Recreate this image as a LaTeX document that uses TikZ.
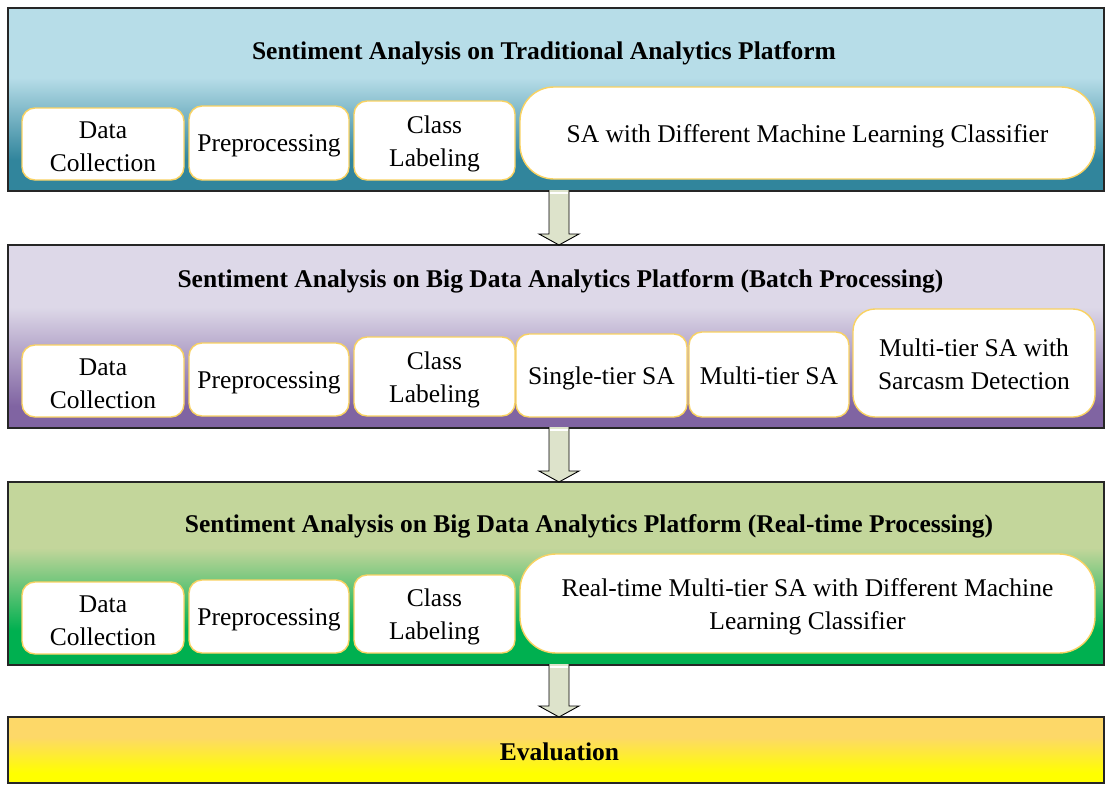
\documentclass[tikz,border=0pt]{standalone}
\usepackage{fontspec}
\setmainfont{Liberation Serif}
\usetikzlibrary{calc}

% panel and box colours
\definecolor{tealtop}{HTML}{B7DDE8}
\definecolor{tealbot}{HTML}{31859C}
\definecolor{lavtop}{HTML}{DDD8E8}
\definecolor{lavbot}{HTML}{8064A2}
\definecolor{greentop}{HTML}{C3D69B}
\definecolor{greenbot}{HTML}{00B050}
\definecolor{goldtop}{HTML}{FDD868}
\definecolor{goldbot}{HTML}{FFFF00}
\definecolor{boxline}{HTML}{F9D262}
\definecolor{arrowfill}{HTML}{DDE3CB}

% vertical bands: the path is mapped onto 25bp..75bp
\pgfdeclareverticalshading{tealband}{100bp}{color(0bp)=(tealbot); color(33.5bp)=(tealbot); color(56bp)=(tealtop); color(100bp)=(tealtop)}
\pgfdeclareverticalshading{lavband}{100bp}{color(0bp)=(lavbot); color(31bp)=(lavbot); color(58bp)=(lavtop); color(100bp)=(lavtop)}
\pgfdeclareverticalshading{greenband}{100bp}{color(0bp)=(greenbot); color(34.5bp)=(greenbot); color(57bp)=(greentop); color(100bp)=(greentop)}
\pgfdeclareverticalshading{goldband}{100bp}{color(0bp)=(goldbot); color(32.5bp)=(goldbot); color(60bp)=(goldtop); color(100bp)=(goldtop)}

\tikzset{
  panel/.style={draw=black!85, line width=1.2pt, inner sep=0pt, outer sep=0pt,
    minimum width=1096pt, anchor=north west},
  paneltitle/.style={font=\fontsize{25.5}{33}\selectfont\bfseries, inner sep=0pt},
  stagebox/.style={draw=boxline, line width=1.4pt, fill=white, rounded corners=13pt,
    inner sep=0pt},
  stagetext/.style={align=center, inner sep=0pt, yshift=-3pt,
    font=\fontsize{25.5}{33}\selectfont},
  flowarrow/.style={fill=arrowfill, draw=black, line width=0.9pt, line join=miter},
}

% block arrow pointing down from #1 to #2
\newcommand\downblock[2]{%
  \path let \p1=(#1), \p2=(#2) in
    [flowarrow] (\x1-10pt,\y1+1pt) -- (\x1-10pt,\y2+11pt) -- (\x1-20pt,\y2+11pt)
      -- (\x1,\y2) -- (\x1+20pt,\y2+11pt) -- (\x1+10pt,\y2+11pt) -- (\x1+10pt,\y1+1pt);
  \path let \p1=(#1) in
    [draw=white, line width=1.6pt] (\x1-9.4pt,\y1-2pt) -- (\x1+9.4pt,\y1-2pt);
}

\begin{document}
\begin{tikzpicture}[x=1pt,y=-1pt]
\useasboundingbox (0,0) rectangle (1106,787);

% ---- panels ----
\node[panel, shading=tealband, minimum height=183pt] (p1) at (8,8) {};
\node[panel, shading=lavband, minimum height=183pt] (p2) at (8,245) {};
\node[panel, shading=greenband, minimum height=183pt] (p3) at (8,482) {};
\node[panel, shading=goldband, minimum height=66pt] (p4) at (8,717) {};

% ---- titles ----
\node[paneltitle] (t1) at (544,53) {Sentiment Analysis on Traditional Analytics Platform};
\node[paneltitle] (t2) at (560.5,281) {Sentiment Analysis on Big Data Analytics Platform (Batch Processing)};
\node[paneltitle] (t3) at (589,526) {Sentiment Analysis on Big Data Analytics Platform (Real-time Processing)};
\node[paneltitle] (t4) at (559.5,752) {Evaluation};

% ---- traditional platform ----
\node[stagebox, minimum width=162pt, minimum height=72pt,
  label={[stagetext]center:{Data\\Collection}}] (a1) at (103,144) {};
\node[stagebox, minimum width=160pt, minimum height=74pt,
  label={[stagetext]center:{Preprocessing}}] (a2) at (269,143) {};
\node[stagebox, minimum width=161pt, minimum height=79pt,
  label={[stagetext]center:{Class\\Labeling}}] (a3) at (434.5,140.5) {};
\node[stagebox, minimum width=575pt, minimum height=92pt, rounded corners=34pt,
  label={[stagetext]center:{SA with Different Machine Learning Classifier}}] (a4) at (807.5,133) {};

% ---- batch processing ----
\node[stagebox, minimum width=162pt, minimum height=72pt,
  label={[stagetext]center:{Data\\Collection}}] (b1) at (103,381) {};
\node[stagebox, minimum width=160pt, minimum height=73pt,
  label={[stagetext]center:{Preprocessing}}] (b2) at (269,379.5) {};
\node[stagebox, minimum width=161pt, minimum height=79pt,
  label={[stagetext]center:{Class\\Labeling}}] (b3) at (434.5,376.5) {};
\node[stagebox, minimum width=171pt, minimum height=83pt,
  label={[stagetext]center:{Single-tier SA}}] (b4) at (601.5,375.5) {};
\node[stagebox, minimum width=160pt, minimum height=85pt,
  label={[stagetext, yshift=2pt]center:{Multi-tier SA}}] (b5) at (769,374.5) {};
\node[stagebox, minimum width=242pt, minimum height=108pt, rounded corners=22pt,
  label={[stagetext, yshift=2pt]center:{Multi-tier SA with\\Sarcasm Detection}}] (b6) at (974,363) {};

% ---- real-time processing ----
\node[stagebox, minimum width=162pt, minimum height=72pt,
  label={[stagetext]center:{Data\\Collection}}] (c1) at (103,618) {};
\node[stagebox, minimum width=160pt, minimum height=73pt,
  label={[stagetext]center:{Preprocessing}}] (c2) at (269,616.5) {};
\node[stagebox, minimum width=161pt, minimum height=78pt,
  label={[stagetext]center:{Class\\Labeling}}] (c3) at (434.5,614) {};
\node[stagebox, minimum width=575pt, minimum height=99pt, rounded corners=36pt,
  label={[stagetext]center:{Real-time Multi-tier SA with Different Machine\\Learning Classifier}}] (c4) at (807.5,603.5) {};

% ---- flow between panels ----
\coordinate (f1s) at ([xshift=3pt]p1.south);
\coordinate (f1e) at ([xshift=3pt]p2.north);
\coordinate (f2s) at ([xshift=3pt]p2.south);
\coordinate (f2e) at ([xshift=3pt]p3.north);
\coordinate (f3s) at ([xshift=3pt]p3.south);
\coordinate (f3e) at ([xshift=3pt]p4.north);
\downblock{f1s}{f1e}
\downblock{f2s}{f2e}
\downblock{f3s}{f3e}
\end{tikzpicture}
\end{document}
